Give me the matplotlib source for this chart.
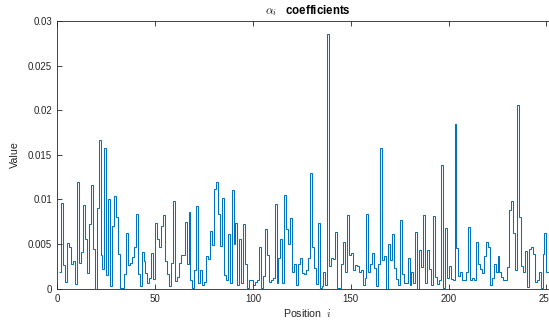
import numpy as np
import matplotlib
matplotlib.use("Agg")
import matplotlib.pyplot as plt
from matplotlib.ticker import FuncFormatter

plt.rcParams['font.family'] = ['Liberation Sans', 'DejaVu Sans']
plt.rcParams['mathtext.fontset'] = 'cm'

# alpha_i, in units of 1e-3, for i = 1..251
alpha_milli = [
    1.9, 9.6, 2.6, 0.7, 5.1, 4.7, 2.8, 3.1, 0.5, 12.0,
    2.9, 4.1, 9.4, 5.6, 1.7, 7.2, 11.6, 4.4, 0.0, 9.0,
    16.6, 3.8, 2.2, 15.8, 1.5, 10.0, 0.3, 7.0, 10.4, 8.0,
    3.9, 0.1, 0.1, 1.6, 6.2, 2.6, 2.9, 3.5, 4.7, 8.4,
    1.6, 0.3, 4.1, 3.1, 1.7, 0.6, 1.2, 4.0, 1.1, 7.4,
    5.6, 4.6, 7.0, 8.3, 3.1, 1.6, 0.3, 2.9, 9.8, 0.8,
    1.3, 2.9, 3.8, 3.8, 7.5, 2.7, 8.6, 0.9, 0.1, 2.1,
    9.3, 0.6, 2.1, 0.4, 0.7, 3.7, 3.3, 6.5, 4.9, 11.2,
    11.9, 8.4, 4.8, 10.1, 1.5, 0.9, 6.1, 0.6, 11.1, 5.0,
    7.4, 0.4, 5.5, 0.6, 7.2, 2.8, 0.1, 0.9, 0.9, 0.4,
    0.7, 0.9, 4.6, 0.1, 1.4, 6.7, 3.8, 0.7, 0.9, 1.2,
    9.5, 0.6, 3.4, 5.5, 0.6, 10.5, 6.7, 5.0, 7.9, 1.9,
    2.7, 0.4, 2.8, 3.4, 1.7, 1.6, 2.1, 3.4, 13.0, 4.6,
    2.3, 0.5, 7.4, 0.1, 0.3, 1.9, 0.4, 28.5, 2.5, 3.4,
    3.3, 6.3, 0.1, 0.1, 2.7, 5.2, 1.8, 8.3, 3.8, 4.0,
    2.1, 2.6, 2.5, 1.8, 2.1, 0.4, 1.2, 8.4, 1.8, 2.8,
    4.0, 2.3, 0.3, 2.7, 15.8, 3.2, 3.7, 0.0, 5.0, 3.2,
    6.1, 2.3, 1.1, 0.4, 7.7, 1.6, 0.6, 0.6, 3.4, 0.4,
    1.8, 0.6, 6.3, 0.0, 4.3, 2.4, 8.2, 0.6, 4.3, 2.2,
    0.4, 8.1, 1.3, 0.5, 0.9, 13.9, 0.1, 6.8, 1.2, 2.5,
    1.1, 0.9, 18.4, 4.5, 1.4, 1.9, 0.9, 0.9, 1.8, 6.9,
    0.9, 1.2, 1.0, 5.2, 2.7, 2.2, 1.7, 3.6, 5.2, 4.7,
    0.4, 1.2, 2.7, 1.9, 3.7, 1.8, 1.3, 0.9, 0.9, 2.4,
    8.8, 9.8, 6.2, 2.1, 20.6, 8.0, 2.5, 1.8, 4.2, 0.2,
    4.4, 4.7, 3.9, 0.7, 0.9, 1.8, 0.1, 3.9, 6.2, 1.8,
    1.8,
]
alpha = np.array(alpha_milli) * 1e-3
positions = np.arange(1, len(alpha) + 2)

x_ticks = [0, 50, 100, 150, 200, 250]
y_ticks = [0, 0.005, 0.01, 0.015, 0.02, 0.025, 0.03]

fig = plt.figure(figsize=(5.49, 3.25), dpi=100)
ax = fig.add_axes([0.1047, 0.1123, 0.912, 0.823])

ax.stairs(alpha, positions, baseline=None, color="#0072BD", linewidth=0.75)

ax.set_xlim(0, 256)
ax.set_ylim(0, 0.03)
ax.set_xticks(x_ticks)
ax.set_yticks(y_ticks)
ax.yaxis.set_major_formatter(FuncFormatter(lambda v, p: "%g" % v))

grey = "#262626"
ax.tick_params(direction="in", top=True, right=True, length=3.5, width=0.6,
               labelsize=7, colors=grey, pad=4)
for s in ax.spines.values():
    s.set_color(grey)
    s.set_linewidth(0.6)

ax.set_title(r"$\alpha_i$   coefficients", fontsize=8.3, fontweight="bold",
             color="black", pad=5)
ax.set_xlabel(r"Position  $i$", fontsize=7.7, color=grey, labelpad=2)
ax.set_ylabel("Value", fontsize=7.7, color=grey, labelpad=6)

fig.savefig("out.png", dpi=100)
